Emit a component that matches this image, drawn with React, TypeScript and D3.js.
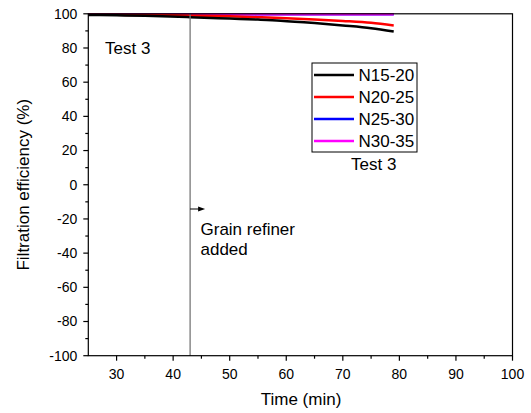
import React from "react";
import * as d3 from "d3";

const timeN1520 = [25, 30, 35, 43, 50, 55, 59, 65, 70, 75, 79];
const effN1520 = [99.3, 99.1, 98.8, 98.0, 97.2, 96.6, 96.0, 94.6, 93.2, 91.6, 89.6];
const timeN2025 = [25, 30, 35, 43, 50, 55, 59, 65, 70, 75, 79];
const effN2025 = [99.5, 99.4, 99.3, 99.0, 98.5, 98.0, 97.6, 96.7, 95.8, 94.7, 93.2];
const timeN2530 = [25, 40, 55, 70, 79];
const effN2530 = [99.8, 99.8, 99.8, 99.8, 99.8];
const timeN3035 = [25, 40, 55, 70, 79];
const effN3035 = [99.8, 99.8, 99.8, 99.8, 99.8];

const seriesNames = ["N15-20", "N20-25", "N25-30", "N30-35"];
const seriesColors = ["#000000", "#ff0000", "#0000ff", "#ff00ff"];
const xTicks = [30, 40, 50, 60, 70, 80, 90, 100];
const xMinorTicks = [35, 45, 55, 65, 75, 85, 95];
const yTicks = [-100, -80, -60, -40, -20, 0, 20, 40, 60, 80, 100];
const yMinorTicks = [-90, -70, -50, -30, -10, 10, 30, 50, 70, 90];
const refinerTime = 43;

export default function App() {
  const left = 88.3, right = 512.5, top = 13.8, bottom = 355.7;
  const x = d3.scaleLinear().domain([25, 100]).range([left, right]);
  const y = d3.scaleLinear().domain([-100, 100]).range([bottom, top]);
  const line = d3.line<[number, number]>().x(d => x(d[0])).y(d => y(d[1])).curve(d3.curveMonotoneX);
  const series = [
    [timeN1520, effN1520],
    [timeN2025, effN2025],
    [timeN2530, effN2530],
    [timeN3035, effN3035],
  ];
  const font = "Arial, 'Liberation Sans', sans-serif";
  const drawOrder = [2, 3, 1, 0];
  const tf = 14;
  const lf = 17;
  return (
    <svg width={531} height={413} style={{ position: "absolute", left: 0, top: 0 }} fontFamily={font}>
      <rect width={531} height={413} fill="#fff" />
      {drawOrder.map(i => (
        <path key={i}
          d={line(series[i][0].map((t, j) => [t, series[i][1][j]]) as [number, number][]) || ""}
          fill="none" stroke={seriesColors[i]} strokeWidth={2.5} />
      ))}
      <line x1={x(refinerTime)} x2={x(refinerTime)} y1={top} y2={bottom} stroke="#777" strokeWidth={1.3} />
      <rect x={left} y={top} width={right - left} height={bottom - top} fill="none" stroke="#000" strokeWidth={1.2} />
      {xTicks.map(t => (
        <g key={t}>
          <line x1={x(t)} x2={x(t)} y1={bottom} y2={bottom + 5} stroke="#000" strokeWidth={1.2} />
          <text x={x(t)} y={378.5} fontSize={tf} textAnchor="middle">{t}</text>
        </g>
      ))}
      {xMinorTicks.map(t => (
        <line key={t} x1={x(t)} x2={x(t)} y1={bottom} y2={bottom + 3} stroke="#000" strokeWidth={1.2} />
      ))}
      {yTicks.map(t => (
        <g key={t}>
          <line x1={left - 5} x2={left} y1={y(t)} y2={y(t)} stroke="#000" strokeWidth={1.2} />
          <text x={left - 11} y={y(t) + 4.8} fontSize={tf} textAnchor="end">{t}</text>
        </g>
      ))}
      {yMinorTicks.map(t => (
        <line key={t} x1={left - 3} x2={left} y1={y(t)} y2={y(t)} stroke="#000" strokeWidth={1.2} />
      ))}
      <text x={301} y={405} fontSize={lf} textAnchor="middle">Time (min)</text>
      <text transform={`translate(28.5,${(top + bottom) / 2}) rotate(-90)`} fontSize={lf} textAnchor="middle">Filtration efficiency (%)</text>
      <text x={105} y={54} fontSize={lf}>Test 3</text>
      <text x={351} y={170} fontSize={lf}>Test 3</text>
      <line x1={x(refinerTime)} x2={x(refinerTime) + 10} y1={209} y2={209} stroke="#000" strokeWidth={1} />
      <path d={`M${x(refinerTime) + 15},209 L${x(refinerTime) + 8},206.5 L${x(refinerTime) + 8},211.5 Z`} fill="#000" />
      <text x={200.5} y={235} fontSize={lf}>Grain refiner</text>
      <text x={200.5} y={255} fontSize={lf}>added</text>
      <rect x={312} y={63} width={105} height={89} fill="#fff" stroke="#000" strokeWidth={1} />
      {seriesNames.map((n, i) => (
        <g key={n}>
          <line x1={314} x2={354} y1={75 + i * 22} y2={75 + i * 22} stroke={seriesColors[i]} strokeWidth={2.5} />
          <text x={358.5} y={75 + i * 22 + 5.7} fontSize={lf}>{n}</text>
        </g>
      ))}
    </svg>
  );
}
